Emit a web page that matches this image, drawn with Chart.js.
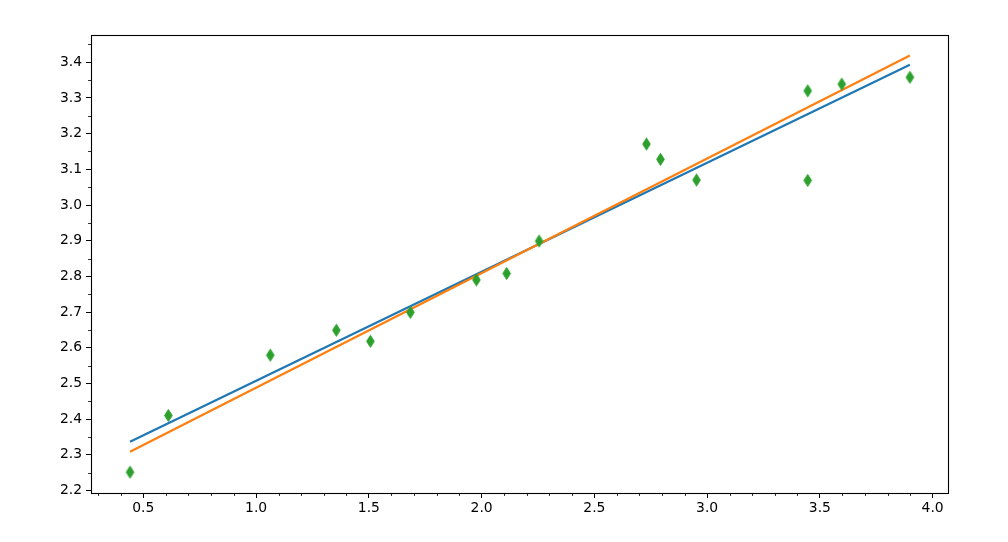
<!DOCTYPE html>
<html>
<head>
<meta charset="utf-8">
<script src="https://cdn.jsdelivr.net/npm/chart.js@4.4.1/dist/chart.umd.min.js"></script>
<style>
  html, body { margin: 0; padding: 0; background: #fff; }
  #wrap { width: 1008px; height: 542px; }
</style>
</head>
<body>
<div id="wrap"><canvas id="fitChart" width="1008" height="542"></canvas></div>
<script>
// puntos medidos
const xData = [0.441, 0.611, 1.063, 1.356, 1.507, 1.684, 1.977, 2.111, 2.255, 2.731, 2.793, 2.953, 3.446, 3.446, 3.597, 3.899];
const yData = [2.251, 2.410, 2.579, 2.649, 2.618, 2.699, 2.790, 2.808, 2.899, 3.171, 3.128, 3.070, 3.320, 3.069, 3.339, 3.358];

// las dos rectas de ajuste (extremos)
const lineX = [0.441, 3.899];
const blueY = [2.336, 3.393];
const orangeY = [2.308, 3.419];

// ticks
const xTicks = [0.5, 1.0, 1.5, 2.0, 2.5, 3.0, 3.5, 4.0];
const yTicks = [2.2, 2.3, 2.4, 2.5, 2.6, 2.7, 2.8, 2.9, 3.0, 3.1, 3.2, 3.3, 3.4];
const xMinor = [0.3, 0.4, 0.6, 0.7, 0.8, 0.9, 1.1, 1.2, 1.3, 1.4, 1.6, 1.7, 1.8, 1.9, 2.1, 2.2, 2.3, 2.4,
                2.6, 2.7, 2.8, 2.9, 3.1, 3.2, 3.3, 3.4, 3.6, 3.7, 3.8, 3.9];
const yMinor = [2.25, 2.35, 2.45, 2.55, 2.65, 2.75, 2.85, 2.95, 3.05, 3.15, 3.25, 3.35, 3.45];

const xRange = [0.268, 4.068];
const yRange = [2.1926, 3.4766];

function thinDiamond(color) {
    const c = document.createElement("canvas");
    c.width = 11;
    c.height = 15;
    const g = c.getContext("2d");
    g.fillStyle = color;
    g.strokeStyle = color;
    g.lineWidth = 1;
    g.beginPath();
    g.moveTo(5.5, 1.5);
    g.lineTo(9.3, 7.5);
    g.lineTo(5.5, 13.5);
    g.lineTo(1.7, 7.5);
    g.closePath();
    g.fill();
    g.stroke();
    return c;
}

const frame = {
    id: "frame",
    beforeDraw(chart) {
        const ctx = chart.ctx;
        ctx.save();
        ctx.fillStyle = "#fff";
        ctx.fillRect(0, 0, chart.width, chart.height);
        ctx.restore();
    },
    afterDraw(chart) {
        const ctx = chart.ctx;
        const a = chart.chartArea;
        const xs = chart.scales.x, ys = chart.scales.y;
        ctx.save();
        ctx.strokeStyle = "#000";
        ctx.lineWidth = 0.8;
        ctx.beginPath();
        xMinor.forEach(v => {
            const p = Math.round(xs.getPixelForValue(v)) + 0.5;
            ctx.moveTo(p, a.bottom);
            ctx.lineTo(p, a.bottom + 3);
        });
        yMinor.forEach(v => {
            const p = Math.round(ys.getPixelForValue(v)) + 0.5;
            ctx.moveTo(a.left, p);
            ctx.lineTo(a.left - 3, p);
        });
        ctx.stroke();
        ctx.lineWidth = 1.1;
        ctx.strokeRect(Math.round(a.left) + 0.5, Math.round(a.top) + 0.5,
                       Math.round(a.right - a.left), Math.round(a.bottom - a.top));
        ctx.restore();
    }
};

const tickFont = { family: "'DejaVu Sans'", size: 13.9 };

new Chart(document.getElementById("fitChart").getContext("2d"), {
    type: "scatter",
    data: {
        datasets: [{
            label: "fit 1",
            data: lineX.map((x, i) => ({ x: x, y: blueY[i] })),
            showLine: true,
            borderColor: "#1f77b4",
            borderWidth: 2.2,
            pointRadius: 0,
            order: 3
        }, {
            label: "fit 2",
            data: lineX.map((x, i) => ({ x: x, y: orangeY[i] })),
            showLine: true,
            borderColor: "#ff7f0e",
            borderWidth: 2.2,
            pointRadius: 0,
            order: 2
        }, {
            label: "datos",
            data: xData.map((x, i) => ({ x: x, y: yData[i] })),
            pointStyle: thinDiamond("#2ca02c"),
            backgroundColor: "#2ca02c",
            borderColor: "#2ca02c",
            order: 1
        }]
    },
    options: {
        responsive: false,
        animation: false,
        events: [],
        layout: { padding: { left: 0, top: 35, right: 60, bottom: 0 } },
        plugins: {
            legend: { display: false },
            tooltip: { enabled: false }
        },
        scales: {
            x: {
                type: "linear",
                min: xRange[0],
                max: xRange[1],
                afterBuildTicks: s => { s.ticks = xTicks.map(v => ({ value: v })); },
                afterFit: s => { s.height = 49; },
                ticks: {
                    color: "#000",
                    font: tickFont,
                    padding: 2,
                    maxRotation: 0,
                    callback: v => v.toFixed(1)
                },
                grid: {
                    drawOnChartArea: false,
                    tickLength: 5,
                    tickColor: "#000",
                    tickWidth: 1
                },
                border: { display: false }
            },
            y: {
                type: "linear",
                min: yRange[0],
                max: yRange[1],
                afterBuildTicks: s => { s.ticks = yTicks.map(v => ({ value: v })); },
                afterFit: s => { s.width = 91; },
                ticks: {
                    color: "#000",
                    font: tickFont,
                    padding: 4,
                    callback: v => v.toFixed(1)
                },
                grid: {
                    drawOnChartArea: false,
                    tickLength: 5,
                    tickColor: "#000",
                    tickWidth: 1
                },
                border: { display: false }
            }
        }
    },
    plugins: [frame]
});
</script>
</body>
</html>
